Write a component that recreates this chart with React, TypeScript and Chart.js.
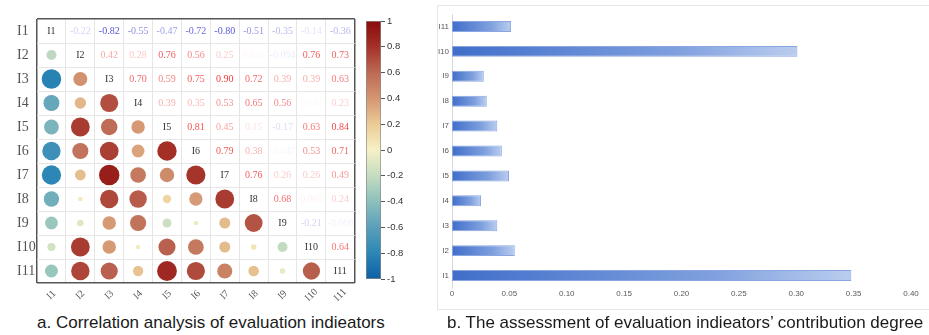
import React, { useEffect, useRef } from 'react';
import { Chart, registerables } from 'chart.js';

Chart.register(...registerables);

// ---------- data ----------
const indicators = ['I1', 'I2', 'I3', 'I4', 'I5', 'I6', 'I7', 'I8', 'I9', 'I10', 'I11'];

const corrI1 = [1, -0.22, -0.82, -0.55, -0.47, -0.72, -0.8, -0.51, -0.35, -0.14, -0.36];
const corrI2 = [-0.22, 1, 0.42, 0.28, 0.76, 0.56, 0.25, 0.045, -0.094, 0.76, 0.73];
const corrI3 = [-0.82, 0.42, 1, 0.7, 0.59, 0.75, 0.9, 0.72, 0.39, 0.39, 0.63];
const corrI4 = [-0.55, 0.28, 0.7, 1, 0.39, 0.35, 0.53, 0.65, 0.56, 0.041, 0.23];
const corrI5 = [-0.47, 0.76, 0.59, 0.39, 1, 0.81, 0.45, 0.15, -0.17, 0.63, 0.84];
const corrI6 = [-0.72, 0.56, 0.75, 0.35, 0.81, 1, 0.79, 0.38, -0.047, 0.53, 0.71];
const corrI7 = [-0.8, 0.25, 0.9, 0.53, 0.45, 0.79, 1, 0.76, 0.26, 0.26, 0.49];
const corrI8 = [-0.51, 0.045, 0.72, 0.65, 0.15, 0.38, 0.76, 1, 0.68, 0.065, 0.24];
const corrI9 = [-0.35, -0.094, 0.39, 0.56, -0.17, -0.047, 0.26, 0.68, 1, -0.21, -0.066];
const corrI10 = [-0.14, 0.76, 0.39, 0.041, 0.63, 0.53, 0.26, 0.065, -0.21, 1, 0.64];
const corrI11 = [-0.36, 0.73, 0.63, 0.23, 0.84, 0.71, 0.49, 0.24, -0.066, 0.64, 1];
const corrRows = [corrI1, corrI2, corrI3, corrI4, corrI5, corrI6, corrI7, corrI8, corrI9, corrI10, corrI11];

const colorbarRange = [-1, 1];

// contribution degree of each indicator (I1..I11)
const contribution = [0.348, 0.0547, 0.0395, 0.0253, 0.0497, 0.0434, 0.0395, 0.0303, 0.0277, 0.301, 0.0515];

const titleA = 'a. Correlation analysis of evaluation indieators';
const titleB = 'b. The assessment of evaluation indieators\u2019 contribution degree';

// ---------- styles ----------
const colorStops: [number, string][] = [
  [-1, '#0d5fa5'],
  [-0.8, '#2c86b6'],
  [-0.6, '#5a9fba'],
  [-0.4, '#8cc0bc'],
  [-0.2, '#c4dcc0'],
  [0, '#f6f1c6'],
  [0.2, '#ebcb96'],
  [0.4, '#d49672'],
  [0.6, '#bd6a55'],
  [0.8, '#a43128'],
  [1, '#8a0a0a'],
];

function hexToRgb(h: string) {
  const n = parseInt(h.slice(1), 16);
  return [(n >> 16) & 255, (n >> 8) & 255, n & 255];
}

function corrColor(v: number) {
  for (let k = 0; k < colorStops.length - 1; k++) {
    const [a, ca] = colorStops[k];
    const [b, cb] = colorStops[k + 1];
    if (v >= a && v <= b) {
      const t = (v - a) / (b - a);
      const A = hexToRgb(ca);
      const B = hexToRgb(cb);
      const c = A.map((x, i) => Math.round(x + (B[i] - x) * t));
      return `rgb(${c[0]},${c[1]},${c[2]})`;
    }
  }
  return colorStops[colorStops.length - 1][1];
}

function fmt(v: number) {
  return Math.abs(v) < 0.1 ? v.toFixed(3) : v.toFixed(2);
}

const serif = '"Liberation Serif", "DejaVu Serif", serif';
const sans = '"Liberation Sans", Arial, sans-serif';

const matrixText = {
  id: 'matrixText',
  afterDatasetsDraw(chart: any) {
    const { ctx, chartArea } = chart;
    const x = chart.scales.x;
    const y = chart.scales.y;
    ctx.save();
    ctx.textAlign = 'center';
    ctx.textBaseline = 'middle';
    for (let i = 0; i < indicators.length; i++) {
      for (let j = i; j < indicators.length; j++) {
        const px = x.getPixelForValue(j);
        const py = y.getPixelForValue(i);
        if (i === j) {
          ctx.fillStyle = '#333';
          ctx.font = `10px ${serif}`;
          ctx.fillText(indicators[i], px, py);
        } else {
          const v = corrRows[i][j];
          const a = Math.min(1, Math.abs(v));
          ctx.fillStyle = v > 0 ? `rgba(240,40,40,${a})` : `rgba(45,45,205,${a})`;
          ctx.font = `10px ${serif}`;
          ctx.fillText(fmt(v), px, py + 0.5);
        }
      }
    }
    // rotated column labels
    ctx.fillStyle = '#555';
    ctx.font = `10px ${serif}`;
    for (let j = 0; j < indicators.length; j++) {
      const px = x.getPixelForValue(j);
      ctx.save();
      ctx.translate(px, chartArea.bottom + 12);
      ctx.rotate(-Math.PI / 4);
      ctx.fillText(indicators[j], 0, 0);
      ctx.restore();
    }
    ctx.restore();
  },
};

export default function App() {
  const matRef = useRef<HTMLCanvasElement>(null);
  const barRef = useRef<HTMLCanvasElement>(null);
  const cbRef = useRef<HTMLCanvasElement>(null);

  useEffect(() => {
    const bubbleData: any[] = [];
    for (let i = 0; i < indicators.length; i++) {
      for (let j = 0; j < i; j++) {
        bubbleData.push({ x: indicators[j], y: indicators[i], v: corrRows[i][j] });
      }
    }
    const isEdge = (c: any) => c.type === 'scale' || c.index === 0;

    const mat = new Chart(matRef.current!, {
      type: 'bubble',
      data: {
        datasets: [
          {
            data: bubbleData,
            backgroundColor: (c: any) => (c.raw ? corrColor(c.raw.v) : '#ccc'),
            borderWidth: 0,
            radius: (c: any) => (c.raw ? 10.8 * Math.sqrt(Math.abs(c.raw.v)) : 3),
          } as any,
        ],
      },
      options: {
        animation: false,
        responsive: false,
        maintainAspectRatio: false,
        events: [],
        layout: { padding: { top: 19, left: 17, right: 3, bottom: 0 } },
        plugins: { legend: { display: false }, tooltip: { enabled: false } },
        scales: {
          x: {
            type: 'category',
            labels: indicators,
            offset: true,
            grid: {
              offset: true,
              drawTicks: false,
              color: (c: any) => (isEdge(c) ? '#555' : '#e6e6e6'),
              lineWidth: (c: any) => (isEdge(c) ? 1.5 : 1),
            },
            border: { display: false },
            ticks: { display: false },
            afterFit: (s: any) => {
              s.height = 27;
            },
          },
          y: {
            type: 'category',
            labels: indicators,
            offset: true,
            grid: {
              offset: true,
              drawTicks: false,
              color: (c: any) => (isEdge(c) ? '#555' : '#e6e6e6'),
              lineWidth: (c: any) => (isEdge(c) ? 1.5 : 1),
            },
            border: { display: false },
            ticks: {
              crossAlign: 'far',
              padding: 0,
              color: '#555',
              font: { family: serif, size: 14 },
            },
            afterFit: (s: any) => {
              s.width = 20;
            },
          },
        } as any,
      },
      plugins: [matrixText],
    });

    const cb = new Chart(cbRef.current!, {
      type: 'bar',
      data: {
        labels: [''],
        datasets: [
          {
            data: [colorbarRange as any],
            backgroundColor: (c: any) => {
              const ys = c.chart.scales.y;
              if (!ys) return '#ccc';
              const y0 = ys.getPixelForValue(colorbarRange[0]);
              const y1 = ys.getPixelForValue(colorbarRange[1]);
              if (!isFinite(y0) || !isFinite(y1) || y0 === y1) return '#ccc';
              const g = c.chart.ctx.createLinearGradient(0, y0, 0, y1);
              colorStops.forEach(([v, col]) => g.addColorStop((v + 1) / 2, col));
              return g;
            },
            borderColor: '#8a8a8a',
            borderWidth: 1,
            borderSkipped: false,
            barPercentage: 1,
            categoryPercentage: 1,
          } as any,
        ],
      },
      options: {
        animation: false,
        responsive: false,
        maintainAspectRatio: false,
        events: [],
        layout: { padding: { top: 21, left: 4, right: 0, bottom: 31 } },
        plugins: { legend: { display: false }, tooltip: { enabled: false } },
        scales: {
          x: { display: false },
          y: {
            position: 'right',
            min: colorbarRange[0],
            max: colorbarRange[1],
            ticks: {
              stepSize: 0.2,
              color: '#333',
              padding: 2,
              font: { family: sans, size: 9.5 },
              callback: (v: any) => String(Number(Number(v).toFixed(1))),
            },
            grid: { drawOnChartArea: false, drawTicks: true, tickLength: 4, color: '#555' },
            border: { display: false },
            afterFit: (s: any) => {
              s.width = 39;
            },
          },
        } as any,
      },
    });

    const bar = new Chart(barRef.current!, {
      type: 'bar',
      data: {
        labels: indicators,
        datasets: [
          {
            data: contribution,
            backgroundColor: (c: any) => {
              const xs = c.chart.scales.x;
              if (!xs || c.raw == null) return '#4472c4';
              const x0 = xs.getPixelForValue(0);
              const x1 = xs.getPixelForValue(c.raw);
              if (!isFinite(x0) || !isFinite(x1) || x1 <= x0) return '#4472c4';
              const g = c.chart.ctx.createLinearGradient(x0, 0, x1, 0);
              g.addColorStop(0, '#406ec9');
              g.addColorStop(0.65, '#7fa0de');
              g.addColorStop(1, '#bacdef');
              return g;
            },
            borderColor: 'rgba(125,155,222,0.9)',
            borderWidth: 1,
            borderSkipped: false,
            barPercentage: 0.44,
            categoryPercentage: 1,
          } as any,
        ],
      },
      options: {
        indexAxis: 'y',
        animation: false,
        responsive: false,
        maintainAspectRatio: false,
        events: [],
        layout: { padding: { top: 8, right: 18, bottom: 0, left: 0 } },
        plugins: { legend: { display: false }, tooltip: { enabled: false } },
        scales: {
          x: {
            min: 0,
            max: 0.4,
            ticks: { stepSize: 0.05, color: '#595959', padding: 1, font: { family: sans, size: 8 } },
            grid: { display: false, drawTicks: false },
            border: { display: false },
            afterFit: (s: any) => {
              s.height = 20;
            },
          },
          y: {
            reverse: true,
            ticks: { color: '#595959', padding: 3, font: { family: sans, size: 8 } },
            grid: { display: false, drawTicks: false },
            border: { display: true, color: '#d9d9d9', width: 1 },
            afterFit: (s: any) => {
              s.width = 14;
            },
          },
        } as any,
      },
    });

    return () => {
      mat.destroy();
      cb.destroy();
      bar.destroy();
    };
  }, []);

  const titleStyle: React.CSSProperties = {
    position: 'absolute',
    top: 314,
    fontFamily: sans,
    fontSize: 17,
    lineHeight: '17px',
    color: '#1a1a1a',
    whiteSpace: 'nowrap',
  };

  return (
    <div style={{ position: 'absolute', left: 0, top: 0, width: 929, height: 335, background: '#fff', overflow: 'hidden' }}>
      <canvas ref={matRef} width={365} height={310} style={{ position: 'absolute', left: 0, top: 0, width: 365, height: 310 }} />
      <canvas ref={cbRef} width={58} height={310} style={{ position: 'absolute', left: 362, top: 0, width: 58, height: 310 }} />
      <div
        style={{
          position: 'absolute',
          left: 437,
          top: 5,
          width: 492,
          height: 303,
          borderTop: '1px solid #e6e6e6',
          borderLeft: '1px solid #e6e6e6',
          borderBottom: '1px solid #e6e6e6',
        }}
      />
      <canvas ref={barRef} width={491} height={302} style={{ position: 'absolute', left: 438, top: 6, width: 491, height: 302 }} />
      <div style={{ ...titleStyle, left: 37 }}>{titleA}</div>
      <div style={{ ...titleStyle, left: 447 }}>{titleB}</div>
    </div>
  );
}
